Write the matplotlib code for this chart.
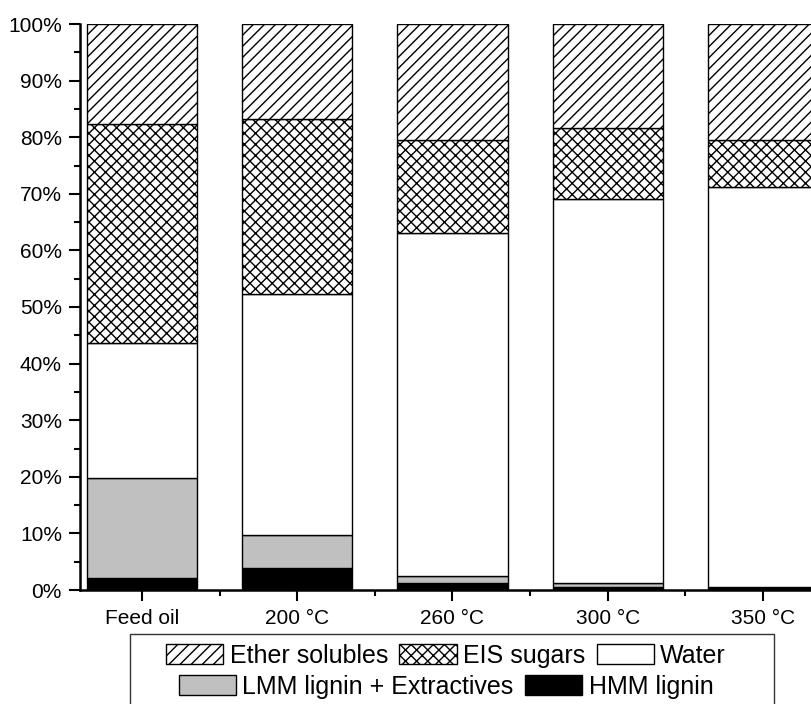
import matplotlib
matplotlib.use("Agg")
import matplotlib.pyplot as plt
from matplotlib.patches import Rectangle
from matplotlib.ticker import MultipleLocator, FixedLocator, PercentFormatter

plt.rcParams['font.family'] = ['Liberation Sans', 'DejaVu Sans']
plt.rcParams['hatch.linewidth'] = 1.0

categories = ['Feed oil', '200 °C', '260 °C', '300 °C', '350 °C']
hmm_lignin = [2.1, 3.8, 1.2, 0.6, 0.4]
lmm_lignin = [17.7, 5.9, 1.2, 0.6, 0.2]
water = [23.8, 42.6, 60.7, 67.9, 70.6]
eis_sugars = [38.7, 30.9, 16.4, 12.5, 8.3]
ether_solubles = [17.7, 16.8, 20.5, 18.4, 20.5]

series = [
    ('HMM lignin', hmm_lignin, 'black', None),
    ('LMM lignin + Extractives', lmm_lignin, '#c0c0c0', None),
    ('Water', water, 'white', None),
    ('EIS sugars', eis_sugars, 'white', 'xxx'),
    ('Ether solubles', ether_solubles, 'white', '///'),
]

W, H = 812, 704
fig = plt.figure(figsize=(W / 100, H / 100), dpi=100)
x0, x1, y0, y1 = 80, 825, 24, 590
ax = fig.add_axes([x0 / W, 1 - y1 / H, (x1 - x0) / W, (y1 - y0) / H])

xpos = list(range(len(categories)))
bottom = [0.0] * len(categories)
handles = {}
for name, vals, color, hatch in series:
    bars = ax.bar(xpos, vals, width=0.71, bottom=bottom, color=color,
                  edgecolor='black', linewidth=1.0, hatch=hatch, label=name)
    handles[name] = bars
    bottom = [b + v for b, v in zip(bottom, vals)]

ax.set_xlim(-0.4, 4.4)
ax.set_ylim(0, 100)

for side in ('top', 'right'):
    ax.spines[side].set_visible(False)
for side in ('left', 'bottom'):
    ax.spines[side].set_linewidth(1.8)

ax.yaxis.set_major_locator(MultipleLocator(10))
ax.yaxis.set_minor_locator(MultipleLocator(5))
ax.yaxis.set_major_formatter(PercentFormatter(decimals=0))
ax.set_xticks(xpos)
ax.set_xticklabels(categories)
ax.xaxis.set_minor_locator(FixedLocator([i + 0.5 for i in xpos[:-1]]))

ax.tick_params(which='major', length=8, width=1.5, labelsize=15, pad=5)
ax.tick_params(which='minor', length=4, width=1.5)
ax.tick_params(axis='x', which='major', pad=6)

leg_kw = dict(frameon=False, fontsize=18, handlelength=2.3, handleheight=0.85,
              handletextpad=0.25, columnspacing=0.45, borderpad=0,
              loc='center', bbox_transform=fig.transFigure)
row1 = ['Ether solubles', 'EIS sugars', 'Water']
row2 = ['LMM lignin + Extractives', 'HMM lignin']
leg1 = ax.legend([handles[n] for n in row1], row1, ncol=3,
                 bbox_to_anchor=(446 / W, 1 - 656 / H), **leg_kw)
ax.add_artist(leg1)
ax.legend([handles[n] for n in row2], row2, ncol=2,
          bbox_to_anchor=(446 / W, 1 - 687 / H), **leg_kw)

fig.add_artist(Rectangle((130 / W, -0.05), (774 - 130) / W, 0.05 + (H - 634) / H,
                         transform=fig.transFigure, fill=False,
                         edgecolor='#333333', linewidth=1.0, clip_on=False))

fig.savefig('out.png', dpi=100)
